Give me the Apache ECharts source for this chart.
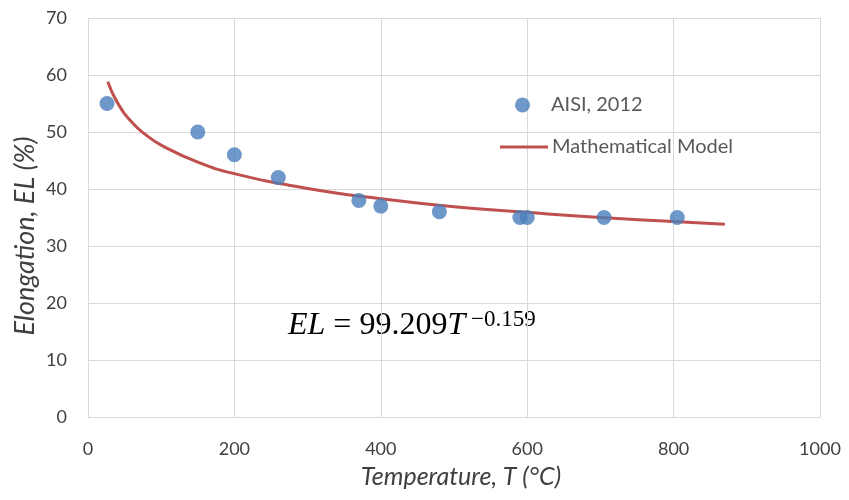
<!DOCTYPE html>
<html>
<head>
<meta charset="utf-8">
<script src="https://cdn.jsdelivr.net/npm/echarts@6/dist/echarts.min.js"></script>
<style>
  html, body { margin: 0; padding: 0; background: #fff; }
  #chart { width: 849px; height: 500px; }
</style>
</head>
<body>
<div id="chart"></div>
<script>
// Measured elongation vs temperature (AISI, 2012)
const testTemps = [26, 150, 200, 260, 370, 400, 480, 590, 600, 705, 805];
const testElong = [55, 50, 46, 42, 38, 37, 36, 35, 35, 35, 35];

// Fitted power-law model curve, sampled points
const modelTemps = [27, 40, 60, 80, 100, 150, 200, 300, 400, 500, 600, 700, 800, 870];
const modelElong = [58.8, 55.2, 51.7, 49.4, 47.7, 44.7, 42.7, 40.1, 38.3, 36.9, 35.9, 35.0, 34.3, 33.8];

const xTicks = [0, 200, 400, 600, 800, 1000];
const yTicks = [0, 10, 20, 30, 40, 50, 60, 70];

const pair = (xs, ys) => xs.map((x, i) => [x, ys[i]]);

const labelFont = 'Lato, "Open Sans", sans-serif';
const mathFont = '"Liberation Serif", "DejaVu Serif", serif';
const chart = echarts.init(document.getElementById('chart'), null, { renderer: 'canvas' });

chart.setOption({
  backgroundColor: '#fff',
  animation: false,
  grid: { left: 88, right: 29, top: 18, bottom: 83 },
  xAxis: {
    type: 'value',
    min: xTicks[0], max: xTicks[xTicks.length - 1], interval: 200,
    name: 'Temperature, T (°C)',
    nameLocation: 'middle', nameGap: 47,
    nameTextStyle: { fontFamily: labelFont, fontStyle: 'italic', fontSize: 25, color: '#404040', padding: [0, 0, 0, 14] },
    axisLine: { show: true, lineStyle: { color: '#d9d9d9' } },
    axisTick: { show: false },
    axisLabel: { fontFamily: labelFont, fontSize: 18, color: '#404040', margin: 23, formatter: v => String(v) },
    splitLine: { show: true, lineStyle: { color: '#d9d9d9', width: 1 } }
  },
  yAxis: {
    type: 'value',
    min: yTicks[0], max: yTicks[yTicks.length - 1], interval: 10,
    axisLine: { show: true, lineStyle: { color: '#d9d9d9' } },
    axisTick: { show: false },
    axisLabel: { fontFamily: labelFont, fontSize: 18, color: '#404040', margin: 21, formatter: v => String(v) },
    splitLine: { show: true, lineStyle: { color: '#d9d9d9', width: 1 } }
  },
  legend: [
    {
      data: [{ name: 'AISI, 2012', icon: 'circle' }],
      left: 515, top: 95, padding: 0,
      itemWidth: 15, itemHeight: 15,
      textStyle: { fontFamily: labelFont, fontSize: 20, color: '#595959', padding: [0, 0, 0, 16] }
    },
    {
      data: [{ name: 'Mathematical Model', icon: 'rect' }],
      left: 500, top: 137, padding: 0,
      itemWidth: 48, itemHeight: 3,
      textStyle: { fontFamily: labelFont, fontSize: 20, color: '#595959', padding: [0, 0, 0, -1] }
    }
  ],
  graphic: [
    {
      // vertical axis title
      type: 'text',
      x: 25, y: 236, rotation: Math.PI / 2,
      style: {
        text: 'Elongation, EL (%)',
        fontFamily: labelFont, fontStyle: 'italic', fontSize: 27, fill: '#404040',
        align: 'center', verticalAlign: 'middle'
      }
    },
    {
      // fitted equation
      type: 'text',
      x: 288, y: 326,
      style: {
        text: '{i|EL }{n|= 99.209}{i|T}',
        verticalAlign: 'middle', align: 'left',
        rich: {
          i: { fontFamily: mathFont, fontStyle: 'italic', fontSize: 32, fill: '#000' },
          n: { fontFamily: mathFont, fontSize: 32, fill: '#000' }
        }
      }
    },
    {
      type: 'text',
      x: 471, y: 320,
      style: {
        text: '−0.159',
        fontFamily: mathFont, fontSize: 23, fill: '#000',
        verticalAlign: 'middle', align: 'left'
      }
    }
  ],
  series: [
    {
      name: 'Mathematical Model',
      type: 'line',
      data: pair(modelTemps, modelElong),
      smooth: true,
      showSymbol: false,
      symbol: 'none',
      lineStyle: { color: '#c0504d', width: 3 },
      itemStyle: { color: '#c0504d' },
      z: 2
    },
    {
      name: 'AISI, 2012',
      type: 'scatter',
      data: pair(testTemps, testElong),
      symbol: 'circle',
      symbolSize: 15,
      itemStyle: { color: '#4a7ebb' },
      z: 3
    }
  ]
});
</script>
</body>
</html>
